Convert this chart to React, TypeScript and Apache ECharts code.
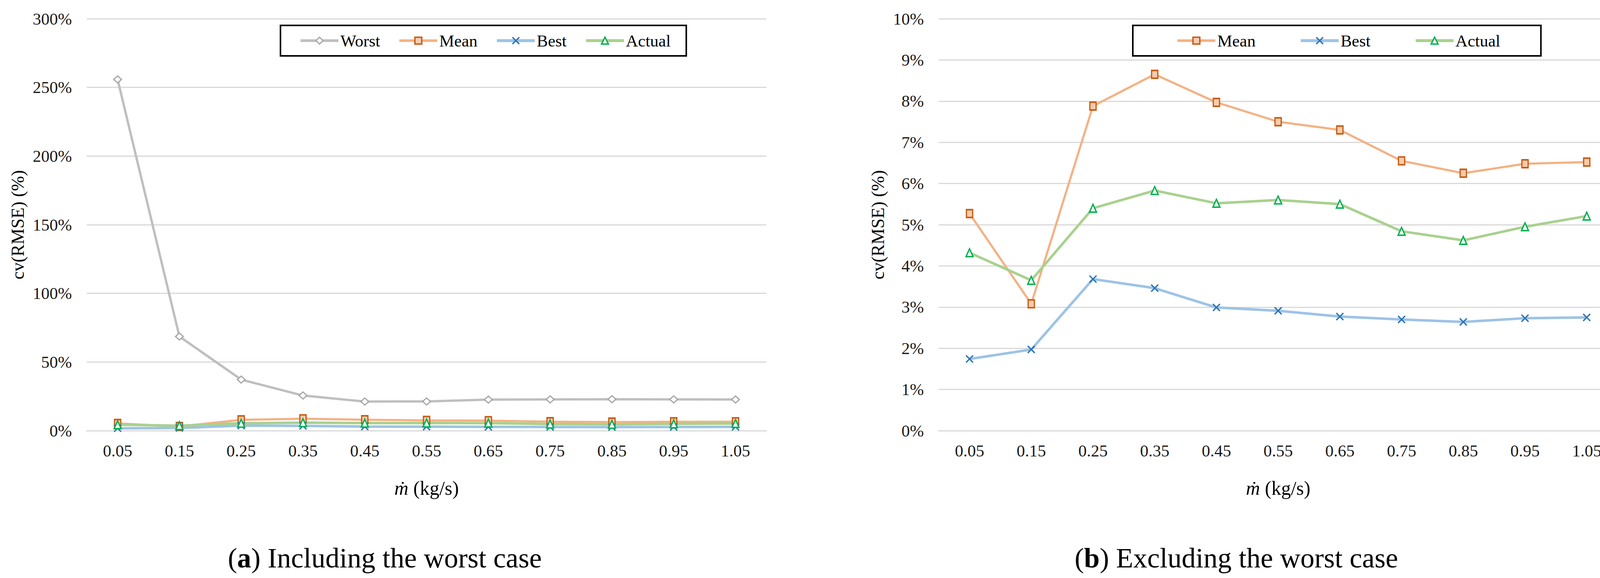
import React, { useEffect, useRef } from "react";
import * as echarts from "echarts";

const categories = ["0.05", "0.15", "0.25", "0.35", "0.45", "0.55", "0.65", "0.75", "0.85", "0.95", "1.05"];
const worst = [255.8, 68.6, 37.2, 25.6, 21.2, 21.3, 22.6, 22.8, 22.9, 22.8, 22.7];
const mean = [5.27, 3.08, 7.88, 8.65, 7.97, 7.5, 7.3, 6.55, 6.25, 6.48, 6.52];
const best = [1.74, 1.97, 3.68, 3.46, 2.99, 2.91, 2.77, 2.7, 2.64, 2.73, 2.75];
const actual = [4.32, 3.65, 5.4, 5.83, 5.52, 5.6, 5.5, 4.84, 4.62, 4.95, 5.21];
const leftNames = ["Worst", "Mean", "Best", "Actual"];
const rightNames = ["Mean", "Best", "Actual"];
const yTitle = "cv(RMSE) (%)";
const xTitle = "{i|ṁ} (kg/s)";
const captionA = "({b|a}) Including the worst case";
const captionB = "({b|b}) Excluding the worst case";

const SERIF = "'Liberation Serif', 'Times New Roman', serif";

export default function App() {
  const ref = useRef<HTMLDivElement>(null);
  useEffect(() => {
    if (!ref.current) return;
    const chart = echarts.init(ref.current, undefined, { renderer: "svg" });

    const styles: Record<string, any> = {
      Worst: {
        symbol: "diamond",
        symbolSize: [20, 18],
        lineStyle: { color: "#BFBFBF", width: 6 },
        itemStyle: { color: "#FFFFFF", borderColor: "#A5A5A5", borderWidth: 3 },
      },
      Mean: {
        symbol: "rect",
        symbolSize: [16, 20],
        lineStyle: { color: "#F4B183", width: 5.5 },
        itemStyle: { color: "#F8CBAD", borderColor: "#C55A11", borderWidth: 3.5 },
      },
      Best: {
        symbol: "path://M0,0L10,10M10,0L0,10",
        symbolSize: 18,
        lineStyle: { color: "#9DC3E6", width: 6.5 },
        itemStyle: { color: "#2E75B6", borderColor: "#2E75B6", borderWidth: 3.5 },
      },
      Actual: {
        symbol: "triangle",
        symbolSize: [18, 20],
        lineStyle: { color: "#A9D18E", width: 6.5 },
        itemStyle: { color: "#FFFFFF", borderColor: "#00B050", borderWidth: 3.5 },
      },
    };
    const dataMap: Record<string, number[]> = { Worst: worst, Mean: mean, Best: best, Actual: actual };

    const mkSeries = (name: string, idx: number) => ({
      type: "line",
      name,
      xAxisIndex: idx,
      yAxisIndex: idx,
      data: dataMap[name],
      showAllSymbol: true,
      ...styles[name],
      z: name === "Worst" ? 2 : 3,
    });

    const legendItem = (name: string) => ({
      name,
      lineStyle: { width: styles[name].lineStyle.width + 1, color: styles[name].lineStyle.color },
      itemStyle: {
        color: styles[name].itemStyle.color,
        borderColor: styles[name].itemStyle.borderColor,
        borderWidth: styles[name].itemStyle.borderWidth,
      },
    });

    const xAxisBase = (gridIndex: number) => ({
      type: "category",
      gridIndex,
      data: categories,
      boundaryGap: true,
      axisLine: { show: true, lineStyle: { color: "#D9D9D9", width: 3 } },
      axisTick: { show: false },
      axisLabel: { fontFamily: SERIF, fontSize: 43, color: "#1a1a1a", margin: 30 },
      name: xTitle,
      nameLocation: "middle",
      nameGap: 122,
      nameTextStyle: {
        fontFamily: SERIF,
        fontSize: 50,
        color: "#000",
        rich: { i: { fontFamily: SERIF, fontSize: 50, fontStyle: "italic", color: "#000" } },
      },
    });

    const yAxisBase = (gridIndex: number, max: number, interval: number, gap: number) => ({
      type: "value",
      gridIndex,
      min: 0,
      max,
      interval,
      axisLine: { show: false },
      axisTick: { show: false },
      splitLine: { show: true, lineStyle: { color: "#D9D9D9", width: 3 } },
      axisLabel: { fontFamily: SERIF, fontSize: 43, color: "#1a1a1a", margin: 38, formatter: "{value}%" },
      name: yTitle,
      nameLocation: "middle",
      nameGap: gap,
      nameTextStyle: { fontFamily: SERIF, fontSize: 46, color: "#000" },
    });

    const legendBase = {
      orient: "horizontal",
      top: 65,
      itemWidth: 97,
      itemHeight: 22,
      backgroundColor: "#FFFFFF",
      borderColor: "#000000",
      borderWidth: 4,
      borderRadius: 0,
      textStyle: { fontFamily: SERIF, fontSize: 43, color: "#000", lineHeight: 46 },
    };

    const caption = (text: string, x: number) => ({
      type: "text",
      x,
      y: 1428,
      style: {
        text,
        fontFamily: SERIF,
        fontSize: 72,
        fill: "#000",
        align: "center",
        verticalAlign: "middle",
        rich: { b: { fontFamily: SERIF, fontSize: 72, fontWeight: "bold", fill: "#000" } },
      },
    });

    chart.setOption({
      animation: false,
      backgroundColor: "#FFFFFF",
      grid: [
        { left: 222, top: 48, width: 1740, height: 1054, containLabel: false },
        { left: 2403, top: 48, width: 1738, height: 1054, containLabel: false },
      ],
      xAxis: [xAxisBase(0), xAxisBase(1)],
      yAxis: [yAxisBase(0, 300, 50, 154), yAxisBase(1, 10, 1, 133)],
      legend: [
        { ...legendBase, left: 718, data: leftNames.map(legendItem), itemGap: 46, padding: [16, 40, 16, 48] },
        { ...legendBase, left: 2900, data: rightNames.map(legendItem), itemGap: 112, padding: [16, 104, 16, 111] },
      ],
      series: [
        ...leftNames.map((n) => mkSeries(n, 0)),
        ...rightNames.map((n) => mkSeries(n, 1)),
      ],
      graphic: [caption(captionA, 985), caption(captionB, 3165)],
    });

    return () => chart.dispose();
  }, []);

  return (
    <div
      ref={ref}
      style={{ position: "absolute", left: 0, top: 0, width: 4162, height: 1479, background: "#fff" }}
    />
  );
}
